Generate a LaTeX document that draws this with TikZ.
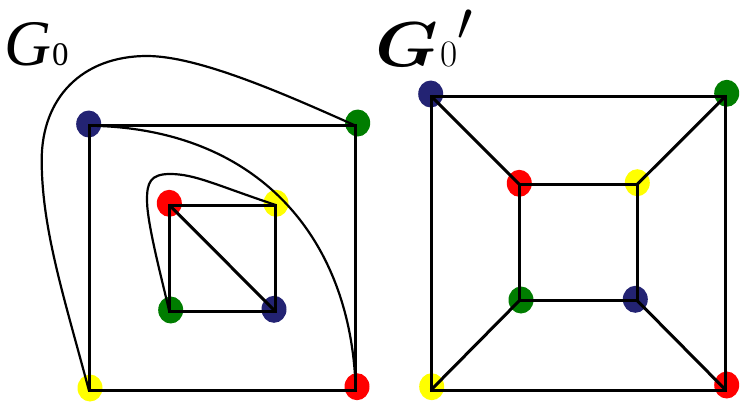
\documentclass[tikz,border=0pt]{standalone}
\usepackage{graphicx}
\usepackage{fontspec}
\newfontfamily\tms{Liberation Serif}[UprightFont=*, ItalicFont=* Italic]
\usetikzlibrary{shapes.geometric}
\definecolor{dblue}{RGB}{35,35,115}
\definecolor{dgreen}{RGB}{0,125,0}
\definecolor{dred}{RGB}{255,0,0}
\definecolor{dyellow}{RGB}{255,255,0}
\begin{document}
\begin{tikzpicture}[x=1pt,y=-1pt,
  dot/.style={ellipse, inner sep=0pt, minimum width=25pt, minimum height=27pt},
  edge/.style={line width=3pt, line join=miter},
  curve/.style={line width=2.2pt},
  lbl/.style={anchor=base west, inner sep=0pt}]
\useasboundingbox (0,0) rectangle (742,402);
% left graph corners
\coordinate (a1) at (89,125.7);
\coordinate (a2) at (355.7,125.7);
\coordinate (a3) at (355.7,390.7);
\coordinate (a4) at (89,390.7);
\coordinate (b1) at (169.3,205);
\coordinate (b2) at (275.7,205);
\coordinate (b3) at (275.7,311.7);
\coordinate (b4) at (169.3,311.7);
% right graph corners
\coordinate (c1) at (431,96);
\coordinate (c2) at (725.7,96);
\coordinate (c3) at (725.7,390);
\coordinate (c4) at (431,390);
\coordinate (d1) at (519.3,184.3);
\coordinate (d2) at (637.3,184.3);
\coordinate (d3) at (637.3,300.7);
\coordinate (d4) at (519.3,300.7);
% dots
\node[dot, fill=dblue] (pa1) at (88.7,124) {};
\node[dot, fill=dgreen] (pa2) at (357.7,123) {};
\node[dot, fill=dred] (pa3) at (357,386.7) {};
\node[dot, fill=dyellow] (pa4) at (90,388) {};
\node[dot, fill=dred] (pb1) at (169.3,203.3) {};
\node[dot, fill=dyellow] (pb2) at (276,203.3) {};
\node[dot, fill=dblue] (pb3) at (274,309.3) {};
\node[dot, fill=dgreen] (pb4) at (170.7,310) {};
\node[dot, fill=dblue] (pc1) at (430.7,94) {};
\node[dot, fill=dgreen] (pc2) at (726.7,93.3) {};
\node[dot, fill=dred] (pc3) at (726.7,385) {};
\node[dot, fill=dyellow] (pc4) at (431.7,386.7) {};
\node[dot, fill=dred] (pd1) at (519.3,183.3) {};
\node[dot, fill=dyellow] (pd2) at (637.3,182.7) {};
\node[dot, fill=dblue] (pd3) at (635.3,299.3) {};
\node[dot, fill=dgreen] (pd4) at (521,300) {};
% left edges
\draw[edge] (a1) -- (a2) -- (a3) -- (a4) -- cycle;
\draw[edge] (b1) -- (b2) -- (b3) -- (b4) -- cycle;
\draw[edge] (b1) -- (b3);
\draw[curve] (a4) .. controls (65,300) and (41.7,230) .. (41.7,160)
  .. controls (41.7,98) and (82,56) .. (147,56)
  .. controls (200,56) and (290,96.5) .. (a2);
\draw[curve] (a1) .. controls (260,128) and (352,240) .. (a3);
\draw[curve] (b2) .. controls (215.7,185) and (195,174) .. (170,174)
  .. controls (150,174) and (147,183) .. (147,200)
  .. controls (147,225) and (164,287) .. (b4);
% right edges
\draw[edge] (c1) -- (c2) -- (c3) -- (c4) -- cycle;
\draw[edge] (d1) -- (d2) -- (d3) -- (d4) -- cycle;
\draw[edge] (c1) -- (d1);
\draw[edge] (c2) -- (d2);
\draw[edge] (c3) -- (d3);
\draw[edge] (c4) -- (d4);
% labels
\node[lbl] (g0) at (4,65) {\tms{\fontsize{65}{65}\selectfont\itshape G}\kern1pt{\fontsize{33}{33}\selectfont 0}};
\node[lbl] (g0p) at (375,66) {\scalebox{2.85}[2.55]{\Huge\boldmath$G$}\kern2pt\scalebox{1.5}{\Huge$0$}\kern0pt\raisebox{26pt}{\scalebox{2.2}{\Huge$\prime$}}};
\end{tikzpicture}
\end{document}
